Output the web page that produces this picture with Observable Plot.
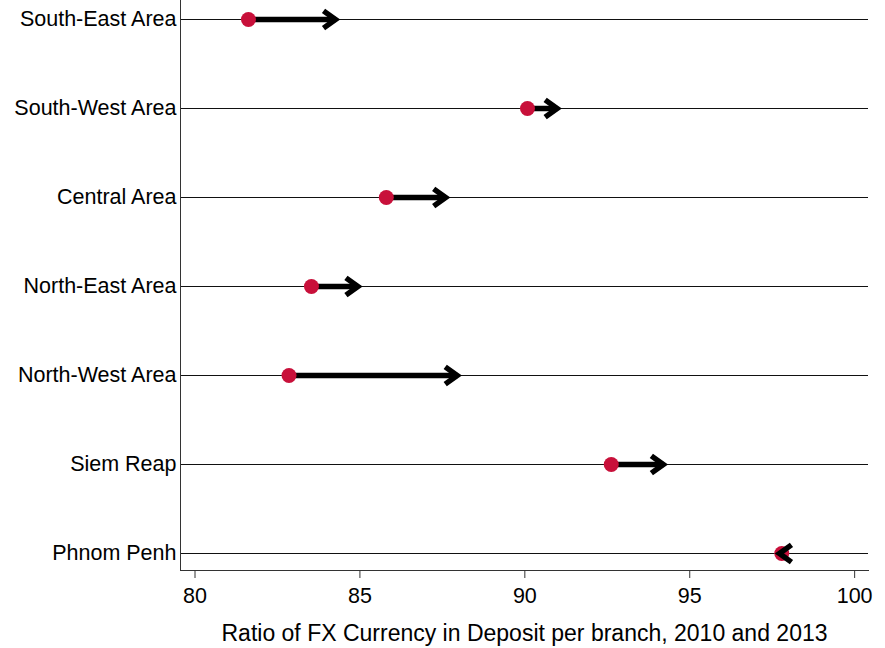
<!DOCTYPE html>
<html>
<head>
<meta charset="utf-8">
<script src="https://cdn.jsdelivr.net/npm/d3@7"></script>
<script src="https://cdn.jsdelivr.net/npm/@observablehq/plot@0.6"></script>
<style>
  html, body { margin: 0; padding: 0; background: #fff; }
  #chart svg { font-family: "Liberation Sans", Arial, sans-serif; }
  #chart [aria-label="x-axis label"] { font-size: 23px; }
</style>
</head>
<body>
<div id="chart"></div>
<script>
const areas = ["South-East Area", "South-West Area", "Central Area", "North-East Area", "North-West Area", "Siem Reap", "Phnom Penh"];
const ratio2010 = [81.62, 90.08, 85.80, 83.53, 82.85, 92.62, 97.79];
const ratio2013 = [84.26, 90.98, 87.60, 84.94, 87.95, 94.20, 97.72];
const xTicks = [80, 85, 90, 95, 100];
const xTitle = "Ratio of FX Currency in Deposit per branch, 2010 and 2013";

const data = areas.map((a, i) => ({area: a, start: ratio2010[i], end: ratio2013[i]}));

const chevron = {
  draw(context, l) {
    const a = l * 0.72;
    context.moveTo(-a, l);
    context.lineTo(0, 0);
    context.lineTo(a, l);
  }
};

const chart = Plot.plot({
  width: 885,
  height: 648,
  marginLeft: 180,
  marginRight: 17,
  marginTop: 0,
  marginBottom: 78,
  style: {fontFamily: "Liberation Sans, Arial, sans-serif", color: "#000", background: "#fff"},
  x: {domain: [79.56, 100.42]},
  y: {type: "point", domain: areas, range: [18, 554], padding: 0},
  marks: [
    Plot.ruleY(areas, {stroke: "#111", strokeWidth: 1}),
    Plot.frame({anchor: "left", stroke: "#333"}),
    Plot.frame({anchor: "bottom", stroke: "#333"}),
    Plot.axisY({tickSize: 0, tickPadding: 4, fontSize: 21.5, label: null}),
    Plot.axisX({ticks: xTicks, tickSize: 8, tickPadding: 9, fontSize: 21.5, stroke: "#333",
                label: xTitle, labelAnchor: "center", labelArrow: "none", labelOffset: 70}),
    Plot.link(data, {x1: "start", x2: "end", y1: "area", y2: "area", stroke: "#000", strokeWidth: 5.5, strokeLinecap: "butt"}),
    Plot.dot(data, {x: "start", y: "area", r: 7.5, fill: "#c8103a", stroke: "none"}),
    Plot.vector(data, {x: "end", y: "area", length: 12, anchor: "start",
                       rotate: d => d.end >= d.start ? 90 : -90,
                       shape: chevron, stroke: "#000", strokeWidth: 5.5, strokeLinejoin: "miter", strokeLinecap: "butt"})
  ]
});
document.getElementById("chart").appendChild(chart);
</script>
</body>
</html>
